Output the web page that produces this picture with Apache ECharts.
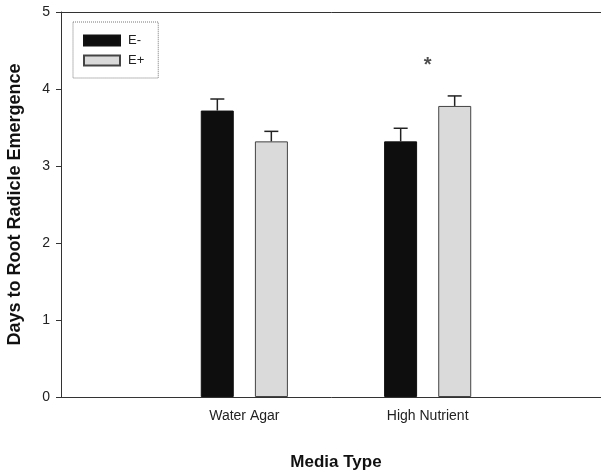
<!DOCTYPE html>
<html>
<head>
<meta charset="utf-8">
<script src="https://cdn.jsdelivr.net/npm/echarts@6/dist/echarts.min.js"></script>
<style>
  html, body { margin: 0; padding: 0; background: #fff; }
  #main { width: 601px; height: 472px; }
</style>
</head>
<body>
<div id="main"></div>
<script>
// categories (empty ends pad the axis like the original plot)
const categories = ['', 'Water Agar', 'High Nutrient', ''];
const meanEminus = [null, 3.72, 3.32, null];
const meanEplus = [null, 3.32, 3.78, null];
const errEminus = [null, 0.15, 0.17, null];
const errEplus = [null, 0.13, 0.13, null];
const sigMarks = [[2, 4.35]];
const yTicks = [0, 1, 2, 3, 4, 5];

const chart = echarts.init(document.getElementById('main'));

function errData(means, errs) {
  const out = [];
  means.forEach((m, i) => {
    if (m != null) out.push([i, m, errs[i]]);
  });
  return out;
}

function errSeries(name, means, errs, offset) {
  return {
    name: name + ' err',
    type: 'custom',
    z: 5,
    silent: true,
    data: errData(means, errs),
    renderItem(params, api) {
      const top = api.coord([api.value(0), api.value(1) + api.value(2)]);
      const base = api.coord([api.value(0), api.value(1)]);
      const x = base[0] + offset;
      const style = {stroke: '#222', lineWidth: 1.5};
      return {
        type: 'group',
        children: [
          {type: 'line', shape: {x1: x, y1: base[1], x2: x, y2: top[1]}, style},
          {type: 'line', shape: {x1: x - 7, y1: top[1], x2: x + 7, y2: top[1]}, style}
        ]
      };
    }
  };
}

chart.setOption({
  animation: false,
  textStyle: {fontFamily: 'Arial, "Liberation Sans", sans-serif'},
  grid: {left: 61, right: -10, top: 12, bottom: 75, outerBoundsMode: 'none', containLabel: false},
  legend: {
    left: 73, top: 22,
    orient: 'vertical',
    icon: 'rect',
    itemWidth: 36, itemHeight: 10, itemGap: 7,
    padding: [12, 14, 11, 10],
    borderColor: '#777', borderWidth: 1, borderType: 'dotted',
    textStyle: {fontSize: 13, color: '#222', padding: [0, 0, 0, 3]},
    data: ['E-', 'E+']
  },
  xAxis: [
    {
      type: 'category', data: categories, boundaryGap: false,
      name: 'Media Type', nameLocation: 'middle', nameGap: 57,
      nameTextStyle: {fontSize: 17, fontWeight: 'bold', color: '#111'},
      axisLine: {lineStyle: {color: '#333'}},
      axisTick: {show: false},
      axisLabel: {fontSize: 14, color: '#222', margin: 12, interval: 0}
    },
    {
      type: 'category', data: categories, boundaryGap: false, position: 'top',
      axisLine: {lineStyle: {color: '#333'}},
      axisTick: {show: false}, axisLabel: {show: false}
    }
  ],
  yAxis: {
    type: 'value', min: yTicks[0], max: yTicks[yTicks.length - 1], interval: 1,
    name: 'Days to Root Radicle Emergence', nameLocation: 'middle', nameGap: 37,
    nameTextStyle: {fontSize: 18, fontWeight: 'bold', color: '#111'},
    axisLine: {show: true, lineStyle: {color: '#333'}},
    axisTick: {show: true, length: 5, lineStyle: {color: '#333'}},
    axisLabel: {fontSize: 14, color: '#222', margin: 11},
    splitLine: {show: false}
  },
  series: [
    {
      name: 'E-', type: 'bar', data: meanEminus,
      barWidth: 33, barGap: '64%',
      itemStyle: {color: '#0e0e0e', borderColor: '#111', borderWidth: 1}
    },
    {
      name: 'E+', type: 'bar', data: meanEplus,
      barWidth: 33, barGap: '64%',
      itemStyle: {color: '#dadada', borderColor: '#444', borderWidth: 1}
    },
    errSeries('E-', meanEminus, errEminus, -27),
    errSeries('E+', meanEplus, errEplus, 27),
    {
      name: 'sig', type: 'scatter', data: sigMarks, symbolSize: 0, silent: true,
      label: {show: true, position: 'inside', formatter: '*', fontSize: 20, fontWeight: 'bold', color: '#222', offset: [0, 3]}
    }
  ]
});
</script>
</body>
</html>
